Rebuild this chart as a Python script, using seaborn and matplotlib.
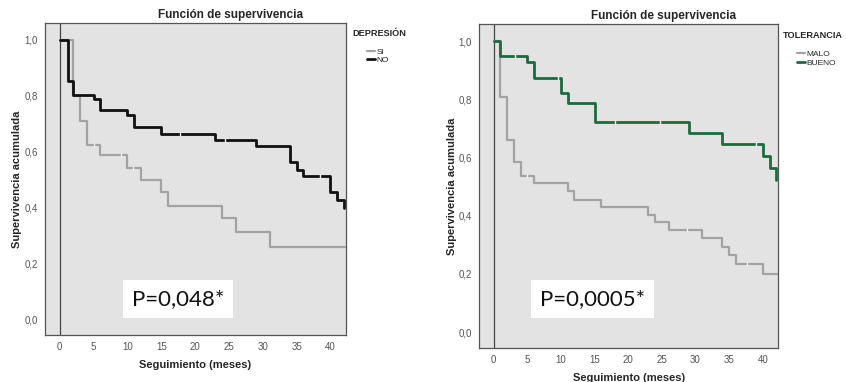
import numpy as np
import pandas as pd
import matplotlib
matplotlib.use("Agg")
import matplotlib.pyplot as plt
from matplotlib.lines import Line2D
import seaborn as sns

sns.set_theme(style="white")
plt.rcParams['font.family'] = ['Liberation Sans', 'DejaVu Sans']

# ---- Data ----
# Panel 1: DEPRESIÓN
si_time = [0, 2, 3, 4, 6, 10, 12, 15, 16, 24, 26, 31, 42.3]
si_surv = [1.0, 0.80, 0.708, 0.625, 0.589, 0.542, 0.50, 0.455, 0.407, 0.363, 0.312, 0.26, 0.26]
si_cens = [5.0, 9.0, 10.8]

no_time = [0, 1.2, 2, 5, 6, 10, 11, 15, 23, 29, 34, 35, 36, 40, 41, 42]
no_surv = [1.0, 0.851, 0.804, 0.788, 0.75, 0.73, 0.687, 0.663, 0.64, 0.619, 0.563, 0.536, 0.512, 0.455, 0.429, 0.40]
no_cens = [17.8, 24.4, 38.5]

# Panel 2: TOLERANCIA
malo_time = [0, 1, 2, 3, 4, 6, 11, 12, 16, 23, 24, 26, 31, 34, 35, 36, 40, 42.3]
malo_surv = [1.0, 0.808, 0.661, 0.584, 0.537, 0.514, 0.485, 0.456, 0.431, 0.402, 0.379, 0.351,
             0.322, 0.293, 0.264, 0.233, 0.199, 0.199]
malo_cens = [5.0, 28.8, 37.7]

bueno_time = [0, 1, 5, 6, 10, 11, 15, 29, 34, 40, 41, 42]
bueno_surv = [1.0, 0.951, 0.928, 0.874, 0.822, 0.790, 0.724, 0.686, 0.647, 0.607, 0.563, 0.523]
bueno_cens = [3.1, 9.5, 18.0, 24.7, 39.0]

x_ticks = [0, 5, 10, 15, 20, 25, 30, 35, 40]
y_ticks = [0.0, 0.2, 0.4, 0.6, 0.8, 1.0]
y_ticklabels = ["0,0", "0,2", "0,4", "0,6", "0,8", "1,0"]

panels = [
    dict(legend_title="DEPRESIÓN", p_text="P=0,048*",
         series=[("SI", si_time, si_surv, si_cens, "#a3a3a3", 1.6),
                 ("NO", no_time, no_surv, no_cens, "#111111", 2.0)],
         rect=[0.053, 0.123, 0.356, 0.817], title_x=0.273, title_y=0.962,
         legt_xy=(0.416, 0.911), leg_xy=(0.428, 0.888), p_xy=(17.5, 0.075), ylab_x=0.02),
    dict(legend_title="TOLERANCIA", p_text="P=0,0005*",
         series=[("MALO", malo_time, malo_surv, malo_cens, "#a3a3a3", 1.6),
                 ("BUENO", bueno_time, bueno_surv, bueno_cens, "#1d6b3c", 2.0)],
         rect=[0.566, 0.089, 0.354, 0.848], title_x=0.784, title_y=0.958,
         legt_xy=(0.925, 0.906), leg_xy=(0.936, 0.882), p_xy=(14.7, 0.114), ylab_x=0.534),
]

fig = plt.figure(figsize=(8.46, 3.82), dpi=100)
fig.patch.set_facecolor("white")

for p in panels:
    ax = fig.add_axes(p["rect"])
    ax.set_facecolor("#e3e3e3")
    handles = []
    for name, t, s, c, col, lw in p["series"]:
        df = pd.DataFrame({"t": t, "s": s})
        sns.lineplot(data=df, x="t", y="s", ax=ax, color=col, lw=lw,
                     drawstyle="steps-post", estimator=None, sort=False, zorder=3)
        # censor marks on the curve
        tt = np.array(t)
        ss = np.array(s)
        idx = np.searchsorted(tt, np.array(c), side="right") - 1
        ax.plot(c, ss[idx], linestyle="none", marker="|", markersize=3.0,
                mew=1.0, color="#f2f2f2", zorder=4)
        handles.append(Line2D([0], [0], color=col, lw=lw, label=name))
    ax.axvline(0, color="#444444", lw=0.9, zorder=2)
    ax.set_xlim(-2.2, 42.3)
    ax.set_ylim(-0.055, 1.06)
    ax.set_xticks(x_ticks)
    ax.set_xticklabels([str(v) for v in x_ticks])
    ax.set_yticks(y_ticks)
    ax.set_yticklabels(y_ticklabels)
    ax.tick_params(axis="both", labelsize=7, labelcolor="#555555", colors="#555555",
                   length=3, width=0.7, direction="out", pad=2)
    for sp in ax.spines.values():
        sp.set_color("#555555")
        sp.set_linewidth(0.9)
    ax.set_xlabel("Seguimiento (meses)", fontsize=8, fontweight="bold", labelpad=6)
    ax.set_ylabel("")
    fig.text(p["ylab_x"], p["rect"][1] + p["rect"][3] / 2, "Supervivencia acumulada",
             rotation=90, ha="center", va="center", fontsize=8, fontweight="bold")
    fig.text(p["title_x"], p["title_y"], "Función de supervivencia", ha="center",
             va="center", fontsize=8.5, fontweight="bold")
    fig.text(p["legt_xy"][0], p["legt_xy"][1], p["legend_title"], ha="left",
             va="center", fontsize=6.6, fontweight="bold")
    fig.legend(handles=handles, loc="upper left",
               bbox_to_anchor=p["leg_xy"], frameon=False, fontsize=6,
               handlelength=1.0, handletextpad=0.1,
               labelspacing=0.1, borderpad=0.1)
    ax.text(p["p_xy"][0], p["p_xy"][1], p["p_text"], ha="center", va="center",
            fontsize=16, family=["Lato", "DejaVu Sans"], color="#111111", zorder=5,
            bbox=dict(boxstyle="square,pad=0.4", facecolor="white", edgecolor="none"))

fig.savefig("out.png", dpi=100, facecolor="white")
